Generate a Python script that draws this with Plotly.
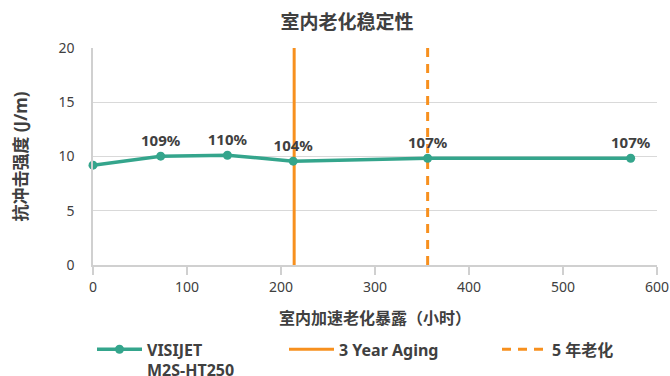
import plotly.graph_objects as go

# Exposure hours and impact strength (J/m)
hours = [0, 72, 143, 213, 356, 572]
strength = [9.2, 10.03, 10.12, 9.57, 9.84, 9.84]
retention = ["", "109%", "110%", "104%", "107%", "107%"]

three_year_hours = 214
five_year_hours = 356
y_range = [0, 20]

FONT = "Noto Sans, Noto Sans CJK SC, sans-serif"
TEAL = "#34A58C"
ORANGE = "#F7901E"
TEXT = "#404040"

fig = go.Figure()

fig.add_trace(go.Scatter(
    x=[three_year_hours, three_year_hours], y=y_range,
    mode="lines", line=dict(color=ORANGE, width=3),
    name="<b>3 Year Aging</b>", legend="legend2", showlegend=True,
))
fig.add_trace(go.Scatter(
    x=[five_year_hours, five_year_hours], y=y_range,
    mode="lines", line=dict(color=ORANGE, width=3, dash="9px,7px"),
    name="<b>5 年老化</b>", legend="legend3", showlegend=True,
))
fig.add_trace(go.Scatter(
    x=hours, y=strength,
    mode="lines+markers+text",
    line=dict(color=TEAL, width=3.5),
    marker=dict(color=TEAL, size=9),
    text=retention, textposition="top center",
    textfont=dict(family=FONT, size=15, color=TEXT, weight="bold"),
    name="<b>VISIJET<br>M2S-HT250</b>", legend="legend", showlegend=True,
    cliponaxis=False,
))

legend_common = dict(
    orientation="h", xanchor="left", yanchor="top",
    xref="container", yref="container",
    y=0.116, bgcolor="rgba(0,0,0,0)",
    font=dict(family=FONT, size=16, color=TEXT),
    valign="top", itemwidth=45,
)

fig.update_layout(
    width=670, height=376, showlegend=True,
    margin=dict(l=93, r=13, t=48, b=111, autoexpand=False),
    paper_bgcolor="white", plot_bgcolor="white",
    font=dict(family=FONT, size=14, color=TEXT),
    title=dict(text="<b>室内老化稳定性</b>", x=347 / 670, xanchor="center",
               y=0.94, yanchor="middle",
               font=dict(family=FONT, size=19, color=TEXT)),
    xaxis=dict(
        range=[0, 600], tickvals=[0, 100, 200, 300, 400, 500, 600],
        showgrid=False, showline=True, linecolor="#D0D0D0", linewidth=1.5,
        ticks="outside", ticklen=8, tickcolor="#D0D0D0", tickwidth=1.5,
        tickfont=dict(family=FONT, size=14, color=TEXT),
        title=dict(text="<b>室内加速老化暴露（小时）</b>", standoff=18,
                   font=dict(family=FONT, size=16, color=TEXT)),
        zeroline=False,
    ),
    yaxis=dict(
        range=y_range, tickvals=[0, 5, 10, 15, 20],
        showgrid=True, gridcolor="#D9D9D9", gridwidth=1,
        showline=True, linecolor="#D0D0D0", linewidth=1.5,
        ticks="", ticklabelstandoff=14,
        tickfont=dict(family=FONT, size=14, color=TEXT),
        title=dict(text="<b>抗冲击强度 (J/m)</b>", standoff=26,
                   font=dict(family=FONT, size=17, color=TEXT)),
        zeroline=False,
    ),
    legend=dict(**legend_common, x=92 / 670),
    legend2=dict(**legend_common, x=284 / 670),
    legend3=dict(**legend_common, x=497 / 670),
)

fig.write_html("out.html")
